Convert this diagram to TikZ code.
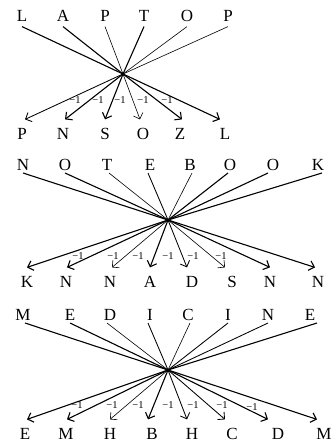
\documentclass[tikz,border=0pt]{standalone}
\usepackage{fontspec}
\setmainfont{Liberation Serif}
\usetikzlibrary{arrows.meta}
\begin{document}
\begin{tikzpicture}[x=1pt,y=-1pt,
  ltr/.style={font=\fontsize{17}{19}\selectfont, inner sep=0pt, text height=11.2pt, text depth=0pt},
  topa/.style={ltr, outer sep=5.5pt},
  topb/.style={ltr, outer sep=2.4pt},
  bot/.style={ltr, outer sep=9pt},
  lab/.style={font=\fontsize{10.5}{12}\selectfont, inner sep=0pt},
  thk/.style={line width=1.1pt},
  medw/.style={line width=0.85pt},
  thn/.style={line width=0.6pt},
  arr/.style={-{Straight Barb[length=5pt,width=10pt]}},
]
\useasboundingbox (0,0) rectangle (331,444);

% ---------- Panel 1: LAPTOP ----------
\coordinate (c1) at (123,74);
\node[topa] (t11) at (22,15.5) {L};
\node[topa] (t12) at (63,15.5) {A};
\node[topa] (t13) at (105,15.5) {P};
\node[topa] (t14) at (144,15.5) {T};
\node[topa] (t15) at (187,15.5) {O};
\node[topa] (t16) at (228,15.5) {P};
\node[bot] (b11) at (22,134) {P};
\node[bot] (b12) at (63,134) {N};
\node[bot] (b13) at (105,134) {S};
\node[bot] (b14) at (143,134) {O};
\node[bot] (b15) at (180,134) {Z};
\node[bot] (b16) at (225,134) {L};
\draw[thk] (t11.south) -- (c1);
\draw[thk] (t12.south) -- (c1);
\draw[thn] (t13.south) -- (c1);
\draw[thk] (t14.south) -- (c1);
\draw[thn] (t15.south) -- (c1);
\draw[thn] (t16.south) -- (c1);
\draw[medw,arr] (c1) -- ([xshift=3pt]b11.north);
\draw[thk,arr] (c1) -- ([xshift=2pt]b12.north);
\draw[thk,arr] (c1) -- (b13.north);
\draw[thn,arr] (c1) -- ([xshift=-3pt]b14.north);
\draw[thk,arr] (c1) -- ([xshift=2pt]b15.north);
\draw[thk,arr] (c1) -- ([xshift=-5pt]b16.north);
\node[lab] (l11) at (75,100) {−1};
\node[lab] (l12) at (98,100) {−1};
\node[lab] (l13) at (120,100) {−1};
\node[lab] (l14) at (143,100) {−1};
\node[lab] (l15) at (167,100) {−1};

% ---------- Panel 2: NOTEBOOK ----------
\coordinate (c2) at (168,220);
\node[topb] (t21) at (23,165) {N};
\node[topb] (t22) at (65,165) {O};
\node[topb] (t23) at (107,165) {T};
\node[topb] (t24) at (150,165) {E};
\node[topb] (t25) at (190,165) {B};
\node[topb] (t26) at (230,165) {O};
\node[topb] (t27) at (273,165) {O};
\node[topb] (t28) at (318,165) {K};
\node[bot] (b21) at (27,282) {K};
\node[bot] (b22) at (66,282) {N};
\node[bot] (b23) at (110,282) {N};
\node[bot] (b24) at (150,282) {A};
\node[bot] (b25) at (192,282) {D};
\node[bot] (b26) at (232,282) {S};
\node[bot] (b27) at (270,282) {N};
\node[bot] (b28) at (318,282) {N};
\draw[thk] (t21.south) -- (c2);
\draw[thk] (t22.south) -- (c2);
\draw[thn] ([xshift=2pt]t23.south) -- (c2);
\draw[medw] ([xshift=-2pt]t24.south) -- (c2);
\draw[thn] ([xshift=2pt]t25.south) -- (c2);
\draw[thk] ([xshift=-2pt]t26.south) -- (c2);
\draw[thk] ([xshift=-5pt]t27.south) -- (c2);
\draw[thk] ([xshift=4pt]t28.south) -- (c2);
\draw[thk,arr] (c2) -- (b21.north);
\draw[thk,arr] (c2) -- ([xshift=1pt]b22.north);
\draw[thn,arr] (c2) -- ([xshift=2pt]b23.north);
\draw[thk,arr] (c2) -- (b24.north);
\draw[medw,arr] (c2) -- ([xshift=-5pt]b25.north);
\draw[thn,arr] (c2) -- ([xshift=-7pt]b26.north);
\draw[thk,arr] (c2) -- (b27.north);
\draw[thk,arr] (c2) -- ([xshift=-3pt]b28.north);
\node[lab] (l21) at (78,256) {−1};
\node[lab] (l22) at (113,256) {−1};
\node[lab] (l23) at (138,256) {−1};
\node[lab] (l24) at (168,256) {−1};
\node[lab] (l25) at (193,256) {−1};
\node[lab] (l26) at (221,256) {−1};

% ---------- Panel 3: MEDICINE ----------
\coordinate (c3) at (168,370);
\node[topb] (t31) at (23,315) {M};
\node[topb] (t32) at (70,315) {E};
\node[topb] (t33) at (110,315) {D};
\node[topb] (t34) at (150,315) {I};
\node[topb] (t35) at (188,315) {C};
\node[topb] (t36) at (228,315) {I};
\node[topb] (t37) at (268,315) {N};
\node[topb] (t38) at (310,315) {E};
\node[bot] (b31) at (25,434) {E};
\node[bot] (b32) at (66,434) {M};
\node[bot] (b33) at (110,434) {H};
\node[bot] (b34) at (152,434) {B};
\node[bot] (b35) at (192,434) {H};
\node[bot] (b36) at (232,434) {C};
\node[bot] (b37) at (278,434) {D};
\node[bot] (b38) at (324,434) {M};
\draw[thk] ([xshift=2pt]t31.south) -- (c3);
\draw[thk] (t32.south) -- (c3);
\draw[thn] ([xshift=-3pt]t33.south) -- (c3);
\draw[medw] ([xshift=-2pt]t34.south) -- (c3);
\draw[thn] ([xshift=2pt]t35.south) -- (c3);
\draw[medw] (t36.south) -- (c3);
\draw[medw] (t37.south) -- (c3);
\draw[thk] ([xshift=7pt]t38.south) -- (c3);
\draw[thk,arr] (c3) -- ([xshift=2pt]b31.north);
\draw[thk,arr] (c3) -- ([xshift=1pt]b32.north);
\draw[thn,arr] (c3) -- (b33.north);
\draw[thk,arr] (c3) -- ([xshift=-4pt]b34.north);
\draw[medw,arr] (c3) -- ([xshift=-5pt]b35.north);
\draw[medw,arr] (c3) -- ([xshift=-7pt]b36.north);
\draw[thk,arr] (c3) -- ([xshift=-10pt]b37.north);
\draw[thk,arr] (c3) -- ([xshift=-7pt]b38.north);
\node[lab] (l31) at (77,405) {−1};
\node[lab] (l32) at (112,405) {−1};
\node[lab] (l33) at (138,405) {−1};
\node[lab] (l34) at (168,405) {−1};
\node[lab] (l35) at (193,405) {−1};
\node[lab] (l36) at (222,405) {−1};
\node[lab] (l37) at (252,407) {−1};
\end{tikzpicture}
\end{document}
